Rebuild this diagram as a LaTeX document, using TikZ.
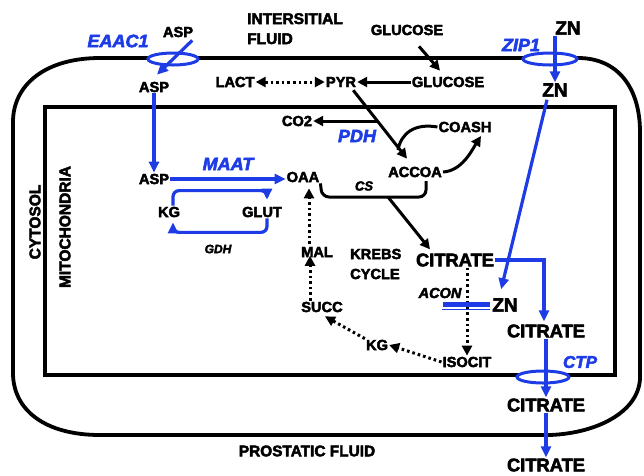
\documentclass[tikz,border=0pt]{standalone}
\usepackage{fontspec}
\setmainfont{Liberation Sans}[BoldFeatures={FakeBold=3}, BoldItalicFeatures={FakeBold=3}]
\usetikzlibrary{arrows.meta,calc,shapes.geometric}
\definecolor{pblue}{RGB}{30,60,230}
\begin{document}
\begin{tikzpicture}[x=1pt,y=-1pt,
  lbl/.style={font=\fontsize{14.6}{16}\selectfont\bfseries, inner sep=1pt},
  big/.style={font=\fontsize{18.3}{20}\selectfont\bfseries, inner sep=1pt},
  zn/.style={font=\fontsize{19}{20}\selectfont\bfseries, inner sep=1pt},
  enz/.style={font=\fontsize{18}{20}\selectfont\bfseries\itshape, text=pblue, inner sep=1pt},
  enzk/.style={font=\fontsize{14.5}{16}\selectfont\bfseries\itshape, inner sep=1pt},
  wall/.style={line width=3.8pt},
  barr/.style={line width=3pt, -{Triangle[length=10pt,width=10pt]}},
  darr/.style={line width=3pt, dash pattern=on 2.6pt off 3pt, -{Triangle[length=10pt,width=10pt]}},
  blarr/.style={line width=3.2pt, pblue, -{Triangle[length=11pt,width=10pt]}},
  chan/.style={draw=pblue, line width=3pt, fill=white, ellipse, inner sep=0pt}
]
\useasboundingbox (0,0) rectangle (644,475);
% membranes
\draw[wall] (100,58) -- (578,58) .. controls (618,58) and (640,88) .. (640,132)
  -- (640,377) .. controls (640,410) and (600,433) .. (550,435)
  -- (100,435) .. controls (45,435) and (13,410) .. (13,373)
  -- (13,122) .. controls (13,85) and (45,58) .. (100,58) -- cycle;
\draw[wall] (45,107) rectangle (615,375);
% channels
\node[chan, minimum width=50pt, minimum height=12pt] (eaacch) at (173,59) {};
\node[chan, minimum width=54pt, minimum height=12pt] (zipch) at (550,59) {};
\node[chan, minimum width=52pt, minimum height=12pt] (ctpch) at (543,377) {};
% labels outside / cytosol
\node[lbl] (asp0) at (178,32) {ASP};
\node[enz] (eaac) at (118,41) {EAAC1};
\node[lbl, anchor=north west, align=left, font=\fontsize{15.5}{20}\selectfont\bfseries] (intf) at (246,12) {INTERSITIAL\\FLUID};
\node[lbl] (glc1) at (407,30) {GLUCOSE};
\node[enz] (zip) at (521,45) {ZIP1};
\node[zn] (zn0) at (568,28) {ZN};
\node[lbl] (asp1) at (154,87) {ASP};
\node[lbl] (lact) at (235,82) {LACT};
\node[lbl] (pyr) at (341,82) {PYR};
\node[lbl] (glc2) at (448,82) {GLUCOSE};
\node[zn] (zn1) at (555,90) {ZN};
\node[lbl, rotate=90, font=\fontsize{15.5}{16}\selectfont\bfseries] (cyto) at (35,222) {CYTOSOL};
\node[lbl, rotate=90, font=\fontsize{15.5}{16}\selectfont\bfseries] (mito) at (65,227) {MITOCHONDRIA};
\node[lbl] (co2) at (297,121) {CO2};
\node[enz] (pdh) at (357,136) {PDH};
\node[lbl] (coash) at (465,127) {COASH};
\node[lbl] (asp2) at (154,179) {ASP};
\node[enz] (maat) at (228,164) {MAAT};
\node[lbl] (oaa) at (303,177) {OAA};
\node[lbl] (accoa) at (415,172) {ACCOA};
\node[enzk, font=\fontsize{13}{14}\selectfont\bfseries\itshape] (cs) at (364,186) {CS};
\node[lbl] (kg1) at (169,212) {KG};
\node[lbl] (glut) at (262,212) {GLUT};
\node[enzk, font=\fontsize{12}{14}\selectfont\bfseries\itshape] (gdh) at (218,249) {GDH};
\node[lbl] (mal) at (317,252) {MAL};
\node[lbl, anchor=west, align=left, font=\fontsize{14.6}{20}\selectfont\bfseries] (krebs) at (349,264) {KREBS\\CYCLE};
\node[big] (cit1) at (455,260) {CITRATE};
\node[enzk] (acon) at (440,293) {ACON};
\node[zn] (zn2) at (505,305) {ZN};
\node[lbl] (succ) at (322,307) {SUCC};
\node[big] (cit2) at (546,331) {CITRATE};
\node[lbl] (kg2) at (377,345) {KG};
\node[lbl] (isocit) at (467,362) {ISOCIT};
\node[enz, font=\fontsize{17}{18}\selectfont\bfseries\itshape] (ctp) at (580,362) {CTP};
\node[big] (cit3) at (546,405) {CITRATE};
\node[lbl, font=\fontsize{15.4}{16}\selectfont\bfseries] (prost) at (307,451) {PROSTATIC FLUID};
\node[big] (cit4) at (546,465) {CITRATE};
% transporter arrows
\draw[blarr] ($(asp0.south east)+(-2,2)$) -- ($(asp1.north)+(3,-6)$);
\draw[blarr] (zn1.north |- zn0.south) -- (zn1.north);
\draw[blarr] (asp1.south) -- (asp2.north);
\draw[blarr] (asp2.east) -- (asp2.east -| oaa.west);
\draw[blarr, rounded corners=6pt] ($(kg1.north)+(4,0)$) -- ++(0,-15) -| ($(glut.north)+(5,-6)$);
\draw[blarr, rounded corners=6pt] ($(glut.south)+(5,0)$) -- ++(0,14) -| ($(kg1.south)+(4,4)$);
% glycolysis
\draw[barr] ($(glc1.south)+(12,10)$) -- ($(glc2.north)+(-8,-5)$);
\draw[barr] (glc2.west) -- (pyr.east);
\draw[darr, {Triangle[length=10pt,width=10pt]}-{Triangle[length=10pt,width=10pt]}] (lact.east) -- (pyr.west);
\coordinate (pdhA) at (377,121);
\coordinate (pdhB) at (398,150);
\draw[barr] ($(pyr.south east)+(-4,2)$) -- ($(accoa.north)+(-8,-7)$);
\draw[barr] (pdhA) -- (co2.east);
\draw[line width=3pt] (coash.west) .. controls (415,123) and (401,133) .. (pdhB);
\coordinate (coashTip) at (481,136);
\draw[barr] (accoa.east) .. controls (462,171) and (472,150) .. (coashTip);
% citrate synthase
\coordinate (csL) at (322,197);
\coordinate (csR) at (426,197);
\coordinate (csM) at (388,197);
\draw[line width=3pt, rounded corners=7pt] (oaa.south east) -- (csL) -- (csR) -- (426,181);
\draw[barr] (csM) -- ($(cit1.north)+(-25,-3)$);
% krebs cycle
\draw[darr] (isocit.north |- cit1.south) -- (isocit.north);
\draw[darr] (isocit.west) -- (kg2.east);
\draw[darr] (kg2.north west) -- ($(succ.south)+(3,3)$);
\draw[darr] ($(succ.north)+(-12,0)$) -- ($(mal.north)+(-7,10)$);
\draw[darr] ($(mal.north)+(-8,-2)$) -- ($(oaa.south)+(6,5)$);
% aconitase inhibition
\node[fill=pblue, minimum width=47pt, minimum height=5pt, inner sep=0pt] (aconbar) at (466,304) {};
\draw[pblue, line width=1.4pt] ($(aconbar.south west)+(0,3)$) -- ($(aconbar.south east)+(0,3)$);
\draw[blarr] ($(zn1.south)+(-8,2)$) -- ($(zn2.north west)+(10,-8)$);
% citrate export
\draw[blarr] (cit1.east) -| ($(cit2.north)+(-2,-2)$);
\draw[blarr] (cit2.south) -- (cit3.north);
\draw[blarr] (cit3.south) -- (cit4.north);
\end{tikzpicture}
\end{document}
